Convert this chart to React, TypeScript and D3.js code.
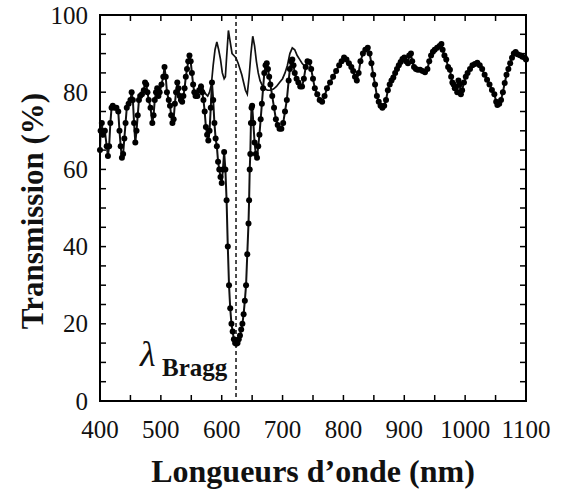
import React from "react";
import * as d3 from "d3";

// Dotted (measured) series: wavelength (nm) and transmission (%)
const dotWavelengths = [
  400, 401, 403, 405, 408, 411, 413, 415, 417, 419, 421, 424, 427, 430, 432, 434, 436, 438, 440, 442,
  444, 447, 450, 452, 454, 456, 458, 460, 462, 464, 466, 469, 472, 474, 476, 478, 480, 483, 486, 488,
  490, 492, 494, 496, 498, 501, 504, 506, 508, 510, 513, 515, 517, 519, 521, 523, 525, 527, 529, 531,
  533, 535, 537, 539, 541, 543, 545, 547, 549, 551, 553, 555, 557, 560, 563, 566, 568, 570, 572, 574,
  576, 578, 580, 582, 584, 586, 588, 590, 592, 594, 596, 598, 600, 602, 604, 606, 608, 610, 612, 614,
  616, 618, 620, 622, 624, 626, 628, 630, 632, 634, 636, 638, 640, 642, 644, 645, 646, 647, 648, 649,
  650, 652, 654, 656, 658, 660, 662, 664, 666, 668, 670, 672, 674, 676, 678, 680, 683, 686, 689, 692,
  695, 698, 701, 704, 707, 710, 712, 714, 716, 718, 720, 723, 726, 729, 732, 735, 738, 741, 744, 747,
  750, 753, 757, 761, 765, 769, 773, 778, 783, 788, 793, 797, 801, 805, 809, 813, 816, 819, 822, 825,
  828, 832, 836, 840, 843, 846, 849, 852, 855, 858, 861, 864, 867, 870, 873, 876, 879, 882, 885, 888,
  891, 894, 897, 900, 903, 906, 908, 911, 913, 916, 919, 922, 926, 930, 934, 938, 941, 944, 947, 950,
  954, 958, 961, 963, 966, 969, 972, 975, 977, 979, 981, 983, 985, 987, 989, 991, 993, 995, 998, 1001,
  1004, 1008, 1012, 1016, 1020, 1024, 1028, 1032, 1036, 1040, 1044, 1048, 1051, 1053, 1056, 1059, 1062, 1065, 1068, 1071,
  1074, 1077, 1080, 1083, 1086, 1090, 1094, 1098, 1100,
];
const dotTransmission = [
  65, 70, 72, 69, 70, 66, 63.5, 66, 72, 76, 76.5, 76, 76, 75, 70, 66, 63, 64, 68, 72,
  76, 77, 78, 80, 78, 72, 67, 70, 74, 78, 79, 79.5, 80.5, 82.5, 82, 80, 78, 76, 72, 74,
  78, 80, 81, 79, 80, 82, 84, 86.5, 84, 80, 78, 76.5, 74, 72, 73, 77, 80, 82.5, 81, 79,
  78, 77.5, 79, 81, 84, 86, 88, 89.5, 88, 85, 82, 80, 79, 79, 80.5, 81.5, 80, 78, 75, 71,
  69, 67.5, 70, 76, 82.5, 78, 72, 68, 66, 62, 60, 58, 56.5, 60, 64.5, 60, 52, 40, 30, 24,
  20, 18, 16, 15, 14.8, 15, 16, 17, 18.5, 20, 22.5, 26, 30, 38, 46, 52, 60, 64, 72, 76,
  76.5, 72, 67, 64, 63, 66, 69, 73, 77, 81, 85, 87, 87.5, 86, 84, 82, 79, 76, 73, 71.5,
  70.5, 70.5, 72, 75, 78, 83, 86, 88, 88.5, 87, 85, 83.5, 82.5, 81.5, 81.5, 83.5, 86.5, 88, 87.8, 86,
  83.5, 81, 79.5, 78, 77.5, 79, 81, 82.5, 84, 85.5, 87, 88, 89, 88.5, 87.5, 86.5, 85.5, 84, 83, 85,
  88, 90, 91, 91.5, 90, 87.5, 84.5, 82, 79, 77.5, 76.5, 76, 76.5, 78, 80.5, 82, 83, 83.8, 85, 86,
  87, 87.8, 88.6, 89, 88, 87.5, 89.5, 90, 88, 86.5, 86, 85.8, 85.8, 85.5, 85.2, 86, 88, 89.5, 90.5, 91,
  91.5, 92, 92.5, 91, 89.5, 88.5, 86.5, 85.8, 84, 82.5, 82, 81, 81.5, 80, 83, 82, 79.5, 80.5, 82.5, 84,
  85, 86, 87, 87.3, 87.6, 87, 86, 84.5, 83.2, 82, 80.6, 79.5, 77.5, 76.7, 77, 78, 80, 82.4, 84.5, 86,
  87.5, 88.9, 90, 90.4, 89.8, 89.6, 89.2, 88.9, 88.5,
];

// Thin (no marker) series where it departs from the dotted one
const lineWavelengths = [
  555, 558, 561, 564, 567, 570, 574, 577, 580, 583, 586, 589, 592, 595, 598, 601, 604, 606, 608, 611,
  614, 617, 620, 623, 627, 630, 633, 636, 639, 642, 645, 648, 651, 654, 657, 660, 663, 666, 670, 675,
  680, 685, 690, 695, 700, 704, 708, 712, 716, 720, 724, 728, 732, 736, 740, 744,
];
const lineTransmission = [
  80, 79.5, 80.5, 82, 82, 80.5, 79.5, 79, 80, 82, 87, 91, 93, 91, 88.5, 85, 83.5, 84, 89, 96,
  93, 90, 89.5, 89, 87.5, 86, 84.5, 82.5, 80.5, 79.5, 84, 90, 94.5, 92, 88, 85, 83, 82, 81, 80.5,
  80.5, 80.8, 81.5, 82.5, 83.5, 85, 87, 90, 91.5, 91, 89.5, 88.5, 87.5, 86.8, 87.5, 87.8,
];

const braggWavelength = 623.5;
const xTickValues = [400, 500, 600, 700, 800, 900, 1000, 1100];
const yTickValues = [0, 20, 40, 60, 80, 100];

const W = 562;
const H = 491;
const M = { left: 100, right: 526, top: 15, bottom: 401 };

export default function App() {
  const x = d3.scaleLinear().domain([400, 1100]).range([M.left, M.right]);
  const y = d3.scaleLinear().domain([0, 100]).range([M.bottom, M.top]);

  const dots = dotWavelengths.map((w, i) => [w, dotTransmission[i]] as [number, number]);
  const thin = lineWavelengths.map((w, i) => [w, lineTransmission[i]] as [number, number]);
  const line = d3
    .line<[number, number]>()
    .x((d) => x(d[0]))
    .y((d) => y(d[1]));

  const xMinor = d3.range(400, 1101, 50);
  const yMinor = d3.range(0, 101, 5);
  const tickLen = 6;
  const serif = "'Liberation Serif', 'Times New Roman', serif";

  return (
    <svg
      width={W}
      height={H}
      style={{ position: "absolute", left: 0, top: 0, background: "#fff" }}
      fontFamily={serif}
    >
      <rect x={0} y={0} width={W} height={H} fill="#fff" />
      {/* ticks */}
      {xMinor.map((v) => (
        <g key={"xt" + v}>
          <line x1={x(v)} x2={x(v)} y1={M.bottom} y2={M.bottom - tickLen} stroke="#000" strokeWidth={1.5} />
          <line x1={x(v)} x2={x(v)} y1={M.top} y2={M.top + tickLen} stroke="#000" strokeWidth={1.5} />
        </g>
      ))}
      {yMinor.map((v) => (
        <g key={"yt" + v}>
          <line x1={M.left} x2={M.left + tickLen} y1={y(v)} y2={y(v)} stroke="#000" strokeWidth={1.5} />
          <line x1={M.right} x2={M.right - tickLen} y1={y(v)} y2={y(v)} stroke="#000" strokeWidth={1.5} />
        </g>
      ))}
      {/* Bragg line */}
      <line
        x1={x(braggWavelength)}
        x2={x(braggWavelength)}
        y1={M.top}
        y2={M.bottom}
        stroke="#000"
        strokeWidth={1.4}
        strokeDasharray="4,3"
      />
      {/* thin series */}
      <path d={line(thin) || ""} fill="none" stroke="#111" strokeWidth={1.7} />
      {/* dotted series */}
      <path d={line(dots) || ""} fill="none" stroke="#111" strokeWidth={2} />
      {dots.map((d, i) => (
        <circle key={"d" + i} cx={x(d[0])} cy={y(d[1])} r={3} fill="#000" />
      ))}
      {/* frame */}
      <rect
        x={M.left}
        y={M.top}
        width={M.right - M.left}
        height={M.bottom - M.top}
        fill="none"
        stroke="#000"
        strokeWidth={2}
      />
      {/* tick labels */}
      {xTickValues.map((v) => (
        <text key={"xl" + v} x={x(v)} y={438} textAnchor="middle" fontSize={25} fill="#111">
          {v}
        </text>
      ))}
      {yTickValues.map((v) => (
        <text key={"yl" + v} x={88} y={y(v) + 8.5} textAnchor="end" fontSize={25} fill="#111">
          {v}
        </text>
      ))}
      {/* axis titles */}
      <text x={(M.left + M.right) / 2} y={482} textAnchor="middle" fontSize={32} fontWeight="bold" fill="#111">
        Longueurs d’onde (nm)
      </text>
      <text
        transform={`translate(43, ${(M.top + M.bottom) / 2 + 3}) rotate(-90)`}
        textAnchor="middle"
        fontSize={31}
        fontWeight="bold"
        fill="#111"
      >
        Transmission (%)
      </text>
      {/* Bragg label */}
      <text x={140} y={366} fontSize={36} fontStyle="italic" fill="#111">
        λ
      </text>
      <text x={162} y={376} fontSize={25} fontWeight="bold" fill="#111">
        Bragg
      </text>
    </svg>
  );
}
